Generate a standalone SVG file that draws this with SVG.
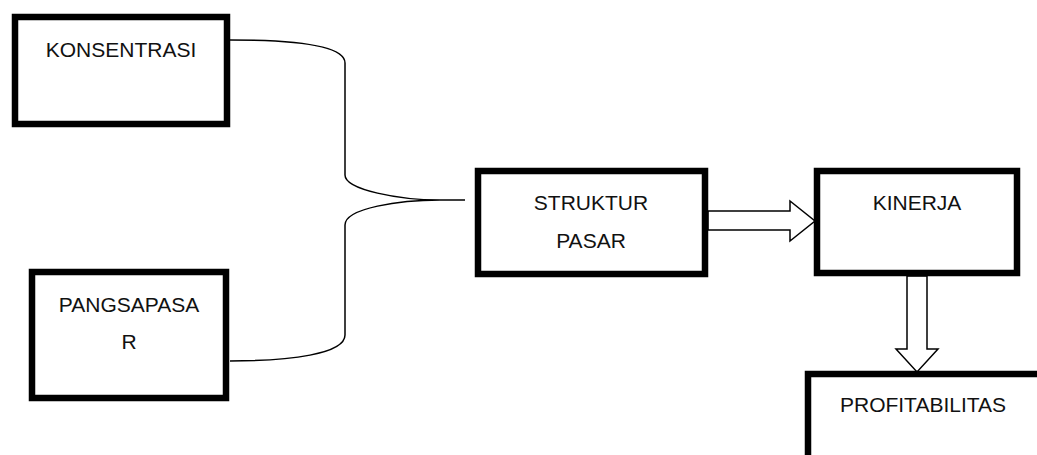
<svg xmlns="http://www.w3.org/2000/svg" width="1037" height="455" viewBox="0 0 1037 455">
<style>
.box{fill:#fff;stroke:#000;stroke-width:6.5}
.lbl{font-family:"Liberation Sans",Arial,sans-serif;font-size:21px;fill:#111;text-anchor:middle}
.con{fill:none;stroke:#000;stroke-width:1.5}
.harrow{fill:#fff;stroke:#000;stroke-width:1.5}
</style>
<rect width="1037" height="455" fill="#fff"/>
<g id="connectors">
<path class="con" d="M230,40 C290,40 345,45 345,63 L345,175 C345,190 400,200 440,200 L465,200 M440,200 C400,200 345,208 345,225 L345,335 C345,354 290,361 230,361"/>
<polygon class="harrow" points="708,211 790,211 790,201 815,221 790,241 790,230 708,230"/>
<polygon class="harrow" points="907,276 927,276 927,349 938,349 917,372 896,349 907,349"/>
</g>
<g id="konsentrasi">
<rect class="box" x="15" y="17" width="212" height="107"/>
<text class="lbl" x="121" y="57">KONSENTRASI</text>
</g>
<g id="pangsapasar">
<rect class="box" x="32" y="272" width="194" height="126"/>
<text class="lbl" x="129" y="312">PANGSAPASA</text>
<text class="lbl" x="129" y="349">R</text>
</g>
<g id="struktur-pasar">
<rect class="box" x="478" y="171" width="227" height="103"/>
<text class="lbl" x="591" y="210">STRUKTUR</text>
<text class="lbl" x="591" y="248">PASAR</text>
</g>
<g id="kinerja">
<rect class="box" x="817" y="171" width="200" height="102"/>
<text class="lbl" x="917" y="210">KINERJA</text>
</g>
<g id="profitabilitas">
<rect class="box" x="808" y="374" width="260" height="120"/>
<text class="lbl" x="923" y="412">PROFITABILITAS</text>
</g>
</svg>
